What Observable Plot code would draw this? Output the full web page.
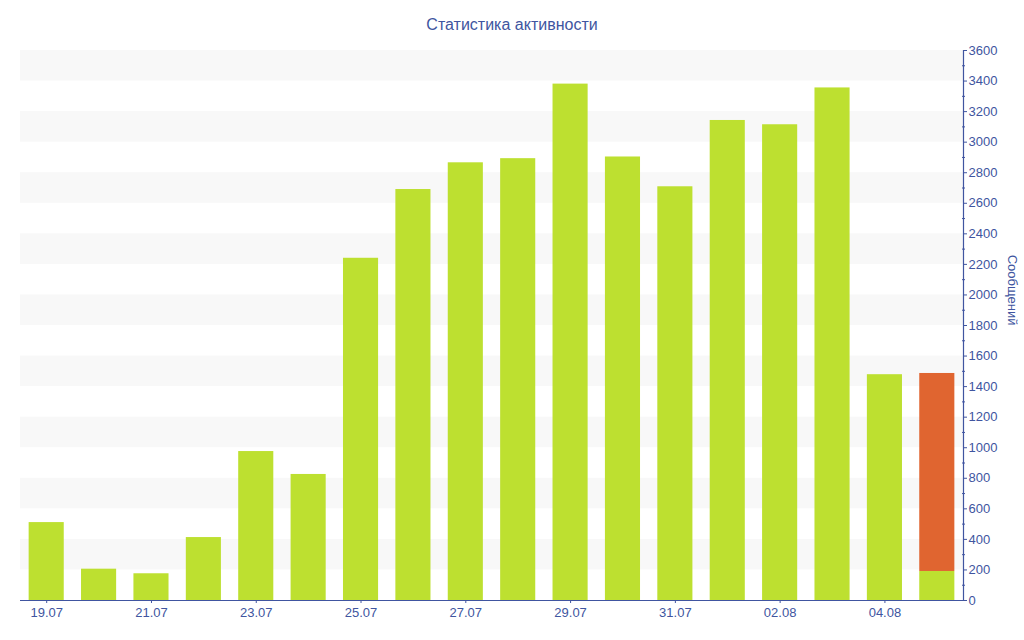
<!DOCTYPE html>
<html>
<head>
<meta charset="utf-8">
<script src="https://cdn.jsdelivr.net/npm/d3@7"></script>
<script src="https://cdn.jsdelivr.net/npm/@observablehq/plot@0.6"></script>
<style>
  html, body { margin: 0; padding: 0; background: #fff; }
  body { font-family: "Liberation Sans", Arial, sans-serif; width: 1024px; }
  #title { height: 40px; box-sizing: border-box; padding-top: 15px; line-height: 20px;
           font-size: 16px; color: #4055a0; text-align: center; }
  #chart svg { display: block; }
</style>
</head>
<body>
<div id="title">Статистика активности</div>
<div id="chart"></div>
<script>
const dates = ["19.07","20.07","21.07","22.07","23.07","24.07","25.07","26.07","27.07",
               "28.07","29.07","30.07","31.07","01.08","02.08","03.08","04.08","05.08"];
const messages = [510, 205, 175, 412, 975, 825, 2240, 2690, 2865,
                  2892, 3380, 2903, 2708, 3142, 3114, 3355, 1478, 190];
const extraMessages = [0, 0, 0, 0, 0, 0, 0, 0, 0,
                       0, 0, 0, 0, 0, 0, 0, 0, 1296];
const seriesNames = ["main", "extra"];
const seriesColors = ["#bde030", "#e06530"];
const labeledDates = dates.filter((d, i) => i % 2 === 0);
const yTicks = d3.range(0, 3601, 200);
const yMinorTicks = d3.range(100, 3600, 200);
const bandStarts = d3.range(200, 3600, 400);
const yLabel = "Сообщений";

const rows = [];
dates.forEach((d, i) => {
  rows.push({date: d, series: "main", value: messages[i]});
  rows.push({date: d, series: "extra", value: extraMessages[i]});
});

const ink = "#4055a0";

const chart = Plot.plot({
  width: 1024,
  height: 600,
  marginTop: 10,
  marginBottom: 40,
  marginLeft: 20,
  marginRight: 61,
  style: {fontFamily: "'Liberation Sans', Arial, sans-serif", fontSize: "13px", color: ink, background: "#fff"},
  x: {type: "band", domain: dates, paddingInner: 0.33, paddingOuter: 0.165, round: false, label: null},
  y: {domain: [0, 3600], label: null},
  color: {domain: seriesNames, range: seriesColors},
  marks: [
    Plot.rect(bandStarts, {y1: d => d, y2: d => d + 200, fill: "#f8f8f8"}),
    Plot.barY(rows, {x: "date", y: "value", fill: "series", order: seriesNames}),
    Plot.ruleY([0], {stroke: ink, strokeWidth: 1.2}),
    Plot.frame({anchor: "right", stroke: ink, strokeWidth: 1.2}),
    Plot.axisX({ticks: labeledDates, tickSize: 3, tickPadding: 4, fontSize: 13, color: ink, stroke: ink}),
    Plot.axisY({anchor: "right", ticks: yTicks, tickSize: 4, dx: -1, tickPadding: 2, fontSize: 13, color: ink, stroke: ink, tickFormat: d => String(d)}),
    Plot.axisY({anchor: "right", ticks: yMinorTicks, tickSize: 3, dx: -2, text: null, stroke: ink}),
    Plot.text([yLabel], {frameAnchor: "right", dx: 49, rotate: 90, fontSize: 13, fill: ink})
  ]
});
document.getElementById("chart").appendChild(chart);
</script>
</body>
</html>
